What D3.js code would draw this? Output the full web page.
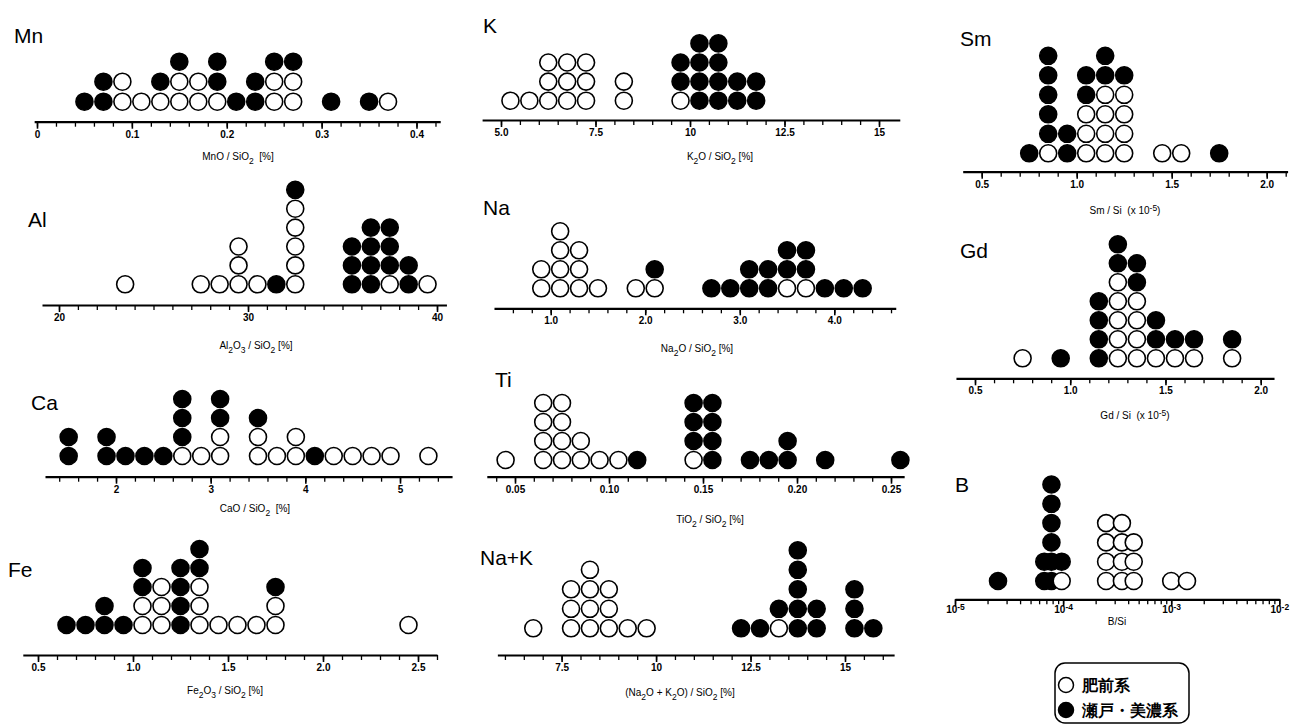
<!DOCTYPE html>
<html>
<head>
<meta charset="utf-8">
<script src="https://cdn.jsdelivr.net/npm/d3@7"></script>
<style>
body { margin: 0; background: #fff; }
svg { display: block; }
text { font-family: "Liberation Sans", Arial, sans-serif; white-space: pre; }
</style>
</head>
<body>
<svg id="chart" width="1292" height="727"></svg>
<script>
// bin centres (x) and the stack in each bin, bottom -> top
// o = 肥前系 (open), f = 瀬戸・美濃系 (filled)
var mnX = [0.05,0.07,0.09,0.11,0.13,0.15,0.17,0.19,0.21,0.23,0.25,0.27,0.31,0.35,0.37];
var mnStack = ["f","ff","oo","o","of","oof","oo","off","f","ff","oof","oof","f","f","o"];
var mnTicks = [0,0.1,0.2,0.3,0.4];
var mnTickText = ["0","0.1","0.2","0.3","0.4"];

var alX = [23.5,27.5,28.5,29.5,30.5,31.5,32.5,35.5,36.5,37.5,38.5,39.5];
var alStack = ["o","o","o","ooo","o","f","ooooof","fff","ffff","offf","ff","o"];
var alTicks = [20,30,40];
var alTickText = ["20","30","40"];

var caX = [1.5,1.9,2.1,2.3,2.5,2.7,2.9,3.1,3.5,3.7,3.9,4.1,4.3,4.5,4.7,4.9,5.3];
var caStack = ["ff","ff","f","f","f","offf","o","ooff","oof","o","oo","f","o","o","o","o","o"];
var caTicks = [2,3,4,5];
var caTickText = ["2","3","4","5"];

var feX = [0.65,0.75,0.85,0.95,1.05,1.15,1.25,1.35,1.45,1.55,1.65,1.75,2.45];
var feStack = ["f","f","ff","f","ooff","ooo","ffff","oooff","o","o","o","oof","o"];
var feTicks = [0.5,1,1.5,2,2.5];
var feTickText = ["0.5","1.0","1.5","2.0","2.5"];

var kX = [5.25,5.75,6.25,6.75,7.25,8.25,9.75,10.25,10.75,11.25,11.75];
var kStack = ["o","o","ooo","ooo","ooo","oo","off","ffff","ffff","ff","ff"];
var kTicks = [5,7.5,10,12.5,15];
var kTickText = ["5.0","7.5","10","12.5","15"];

var naX = [0.9,1.1,1.3,1.5,1.9,2.1,2.7,2.9,3.1,3.3,3.5,3.7,3.9,4.1,4.3];
var naStack = ["oo","oooo","ooo","o","o","of","f","f","ff","ff","off","off","f","f","f"];
var naTicks = [1,2,3,4];
var naTickText = ["1.0","2.0","3.0","4.0"];

var tiX = [0.045,0.065,0.075,0.085,0.095,0.105,0.115,0.145,0.155,0.175,0.185,0.195,0.215,0.255];
var tiStack = ["o","oooo","oooo","oo","o","o","f","offf","ffff","f","f","ff","f","f"];
var tiTicks = [0.05,0.10,0.15,0.20,0.25];
var tiTickText = ["0.05","0.10","0.15","0.20","0.25"];

var nkX = [6.75,7.75,8.25,8.75,9.25,9.75,12.25,12.75,13.25,13.75,14.25,15.25,15.75];
var nkStack = ["o","ooo","oooo","ooo","o","o","f","f","of","fffff","ff","fff","f"];
var nkTicks = [7.5,10,12.5,15];
var nkTickText = ["7.5","10","12.5","15"];

var smX = [0.75,0.85,0.95,1.05,1.15,1.25,1.45,1.55,1.75];
var smStack = ["f","offfff","ff","oooff","ooooff","oooof","o","o","f"];
var smTicks = [0.5,1,1.5,2];
var smTickText = ["0.5","1.0","1.5","2.0"];

var gdX = [0.75,0.95,1.15,1.25,1.35,1.45,1.55,1.65,1.85];
var gdStack = ["o","f","ffff","oooooff","ooooff","off","of","of","of"];
var gdTicks = [0.5,1,1.5,2];
var gdTickText = ["0.5","1.0","1.5","2.0"];

var bX = [2.5e-5,6.7e-5,7.8e-5,9.7e-5,2.5e-4,3.5e-4,4.5e-4,1.0e-3,1.4e-3];
var bStack = ["f","ff","ffffff","of","oooo","oooo","ooo","o","o"];
var bTicks = [1e-5,1e-4,1e-3,1e-2];
var bTickText = ["10^{-5}","10^{-4}","10^{-3}","10^{-2}"];

var legendLabels = ["肥前系","瀬戸・美濃系"];

var svg = d3.select("#chart");

// little markup: _x / _{..} subscript, ^{..} superscript
function richText(sel, str, size) {
  var re = /([_^])(\{([^}]*)\}|(.))/g, last = 0, m, shift = 0;
  function add(t, s) {
    var off = s * size * 0.35;
    var ts = sel.append("tspan").text(t).attr("dy", off - shift);
    if (s) ts.attr("font-size", size * 0.85);
    shift = off;
  }
  while ((m = re.exec(str))) {
    if (m.index > last) add(str.slice(last, m.index), 0);
    add(m[3] !== undefined ? m[3] : m[4], m[1] == "_" ? 1 : -1);
    last = re.lastIndex;
  }
  if (last < str.length) add(str.slice(last), 0);
}

function steps(a, b, s) {
  return d3.range(a, b + s / 2, s).map(function(v) { return +v.toFixed(5); });
}

var panels = [
  {name:"Mn", nx:14, ny:43, xs:mnX, st:mnStack, ticks:mnTicks, tt:mnTickText,
   dom:[0,0.4], rng:[37,416.5], line:[-0.003,0.425], minor:steps(0,0.42,0.02),
   axisY:121.7, rowY:101.7, dy:20, title:"MnO / SiO_2  [%]", tx:238, ty:160},
  {name:"Al", nx:28, ny:227, xs:alX, st:alStack, ticks:alTicks, tt:alTickText,
   dom:[20,40], rng:[59,437], line:[19.1,40.5], minor:steps(20,40,1),
   axisY:305, rowY:284.3, dy:18.9, title:"Al_2O_3 / SiO_2 [%]", tx:256, ty:349},
  {name:"Ca", nx:31, ny:410, xs:caX, st:caStack, ticks:caTicks, tt:caTickText,
   dom:[2,5], rng:[116,400], line:[1.25,5.55], minor:steps(1.4,5.4,0.2),
   axisY:476.7, rowY:456, dy:19, title:"CaO / SiO_2  [%]", tx:255, ty:512},
  {name:"Fe", nx:8, ny:577, xs:feX, st:feStack, ticks:feTicks, tt:feTickText,
   dom:[0.5,2.5], rng:[38,418], line:[0.42,2.6], minor:steps(0.5,2.6,0.1),
   axisY:655, rowY:625, dy:19, title:"Fe_2O_3 / SiO_2 [%]", tx:225, ty:694},
  {name:"K", nx:483, ny:33, xs:kX, st:kStack, ticks:kTicks, tt:kTickText,
   dom:[5,15], rng:[501,879], line:[4.5,15.55], minor:steps(5,15,0.5),
   axisY:120, rowY:100.7, dy:19.1, title:"K_2O / SiO_2 [%]", tx:720, ty:160},
  {name:"Na", nx:483, ny:215, xs:naX, st:naStack, ticks:naTicks, tt:naTickText,
   dom:[1,4], rng:[550.7,834.3], line:[0.4,4.65], minor:steps(0.6,4.6,0.2),
   axisY:308.3, rowY:288.3, dy:19, title:"Na_2O / SiO_2 [%]", tx:697, ty:352},
  {name:"Ti", nx:495, ny:387, xs:tiX, st:tiStack, ticks:tiTicks, tt:tiTickText,
   dom:[0.05,0.25], rng:[515,891], line:[0.035,0.257], minor:steps(0.04,0.25,0.01),
   axisY:476.7, rowY:460, dy:19, title:"TiO_2 / SiO_2 [%]", tx:710, ty:523},
  {name:"Na+K", nx:480, ny:565, xs:nkX, st:nkStack, ticks:nkTicks, tt:nkTickText,
   dom:[7.5,15], rng:[561.6,845], line:[5.8,16.3], minor:steps(6,16,0.5),
   axisY:655, rowY:628.3, dy:19.5, title:"(Na_2O + K_2O) / SiO_2 [%]", tx:680, ty:696},
  {name:"Sm", nx:960, ny:46, xs:smX, st:smStack, ticks:smTicks, tt:smTickText,
   dom:[0.5,2.0], rng:[981.7,1266.7], line:[0.4,2.11], minor:steps(0.5,2.1,0.1),
   axisY:171.7, rowY:153.3, dy:19.5, title:"Sm / Si  (x 10^{-5})", tx:1125, ty:214},
  {name:"Gd", nx:960, ny:258, xs:gdX, st:gdStack, ticks:gdTicks, tt:gdTickText,
   dom:[0.5,2.0], rng:[975,1260.7], line:[0.4,2.07], minor:steps(0.5,2.0,0.1),
   axisY:378.3, rowY:358.3, dy:19, title:"Gd / Si  (x 10^{-5})", tx:1135, ty:419},
  {name:"B", nx:955, ny:492, xs:bX, st:bStack, ticks:bTicks, tt:bTickText, log:true,
   dom:[1e-5,1e-2], rng:[955,1279.3],
   axisY:599.3, rowY:581, dy:19.3, title:"B/Si", tx:1117, ty:625}
];

panels.forEach(function(p) {
  var x, xa;
  if (p.log) {
    x = d3.scaleLog().domain(p.dom).range(p.rng);
    xa = x;
    p.minor = x.ticks();
  } else {
    x = d3.scaleLinear().domain(p.dom).range(p.rng);
    xa = x.copy().domain(p.line).range(p.line.map(x));
  }
  var row = d3.scaleLinear().domain([0, 1]).range([p.rowY, p.rowY - p.dy]);

  // panel name
  svg.append("text").attr("x", p.nx).attr("y", p.ny)
    .attr("font-size", 21).text(p.name);

  // axis line + minor ticks
  var g = svg.append("g").attr("transform", "translate(0," + p.axisY + ")")
    .call(d3.axisBottom(xa).tickValues(p.minor).tickSize(5).tickSizeOuter(0).tickFormat(""));
  g.select(".domain").attr("stroke-width", 2.2);
  g.selectAll(".tick line").attr("stroke-width", 1.3);

  // labelled ticks
  var gl = svg.append("g").attr("transform", "translate(0," + p.axisY + ")")
    .call(d3.axisBottom(x).tickValues(p.ticks).tickSize(7).tickPadding(2)
      .tickFormat(function(d, i) { return p.log ? "" : p.tt[i]; }));
  gl.select(".domain").remove();
  gl.selectAll(".tick line").attr("stroke-width", 1.6);
  gl.selectAll(".tick text")
    .attr("font-family", "'Liberation Sans', Arial, sans-serif")
    .attr("font-size", 10).attr("font-weight", "bold");
  if (p.log) {
    gl.selectAll(".tick text").attr("dy", null).attr("y", 14).each(function(d, i) {
      richText(d3.select(this), p.tt[i], 10);
    });
  }

  // axis title
  var t = svg.append("text").attr("x", p.tx).attr("y", p.ty)
    .attr("text-anchor", "middle").attr("font-size", 10);
  richText(t, p.title, 10);

  // dots
  var dots = [];
  p.xs.forEach(function(v, i) {
    p.st[i].split("").forEach(function(c, j) {
      if (c != "-") dots.push({v: v, j: j, c: c});
    });
  });
  svg.append("g").selectAll("circle").data(dots).join("circle")
    .attr("cx", function(d) { return x(d.v); })
    .attr("cy", function(d) { return row(d.j); })
    .attr("r", 8.5)
    .attr("fill", function(d) { return d.c == "f" ? "#000" : "#fff"; })
    .attr("stroke", "#000").attr("stroke-width", 1.6);
});

// legend
var lg = svg.append("g");
lg.append("rect").attr("x", 1055).attr("y", 663).attr("width", 134).attr("height", 60)
  .attr("rx", 10).attr("fill", "#fff").attr("stroke", "#000").attr("stroke-width", 1.5);
var ly = d3.scaleLinear().domain([0, 1]).range([685, 710]);
lg.selectAll("circle").data(legendLabels).join("circle")
  .attr("cx", 1066).attr("cy", function(d, i) { return ly(i); }).attr("r", 7.5)
  .attr("fill", function(d, i) { return i ? "#000" : "#fff"; })
  .attr("stroke", "#000").attr("stroke-width", 1.5);
lg.selectAll("text").data(legendLabels).join("text")
  .attr("x", 1082).attr("y", function(d, i) { return ly(i) + 6; })
  .attr("font-family", "'Noto Sans CJK JP', sans-serif")
  .attr("font-size", 15.5).attr("font-weight", "bold").text(function(d) { return d; });
</script>
</body>
</html>
